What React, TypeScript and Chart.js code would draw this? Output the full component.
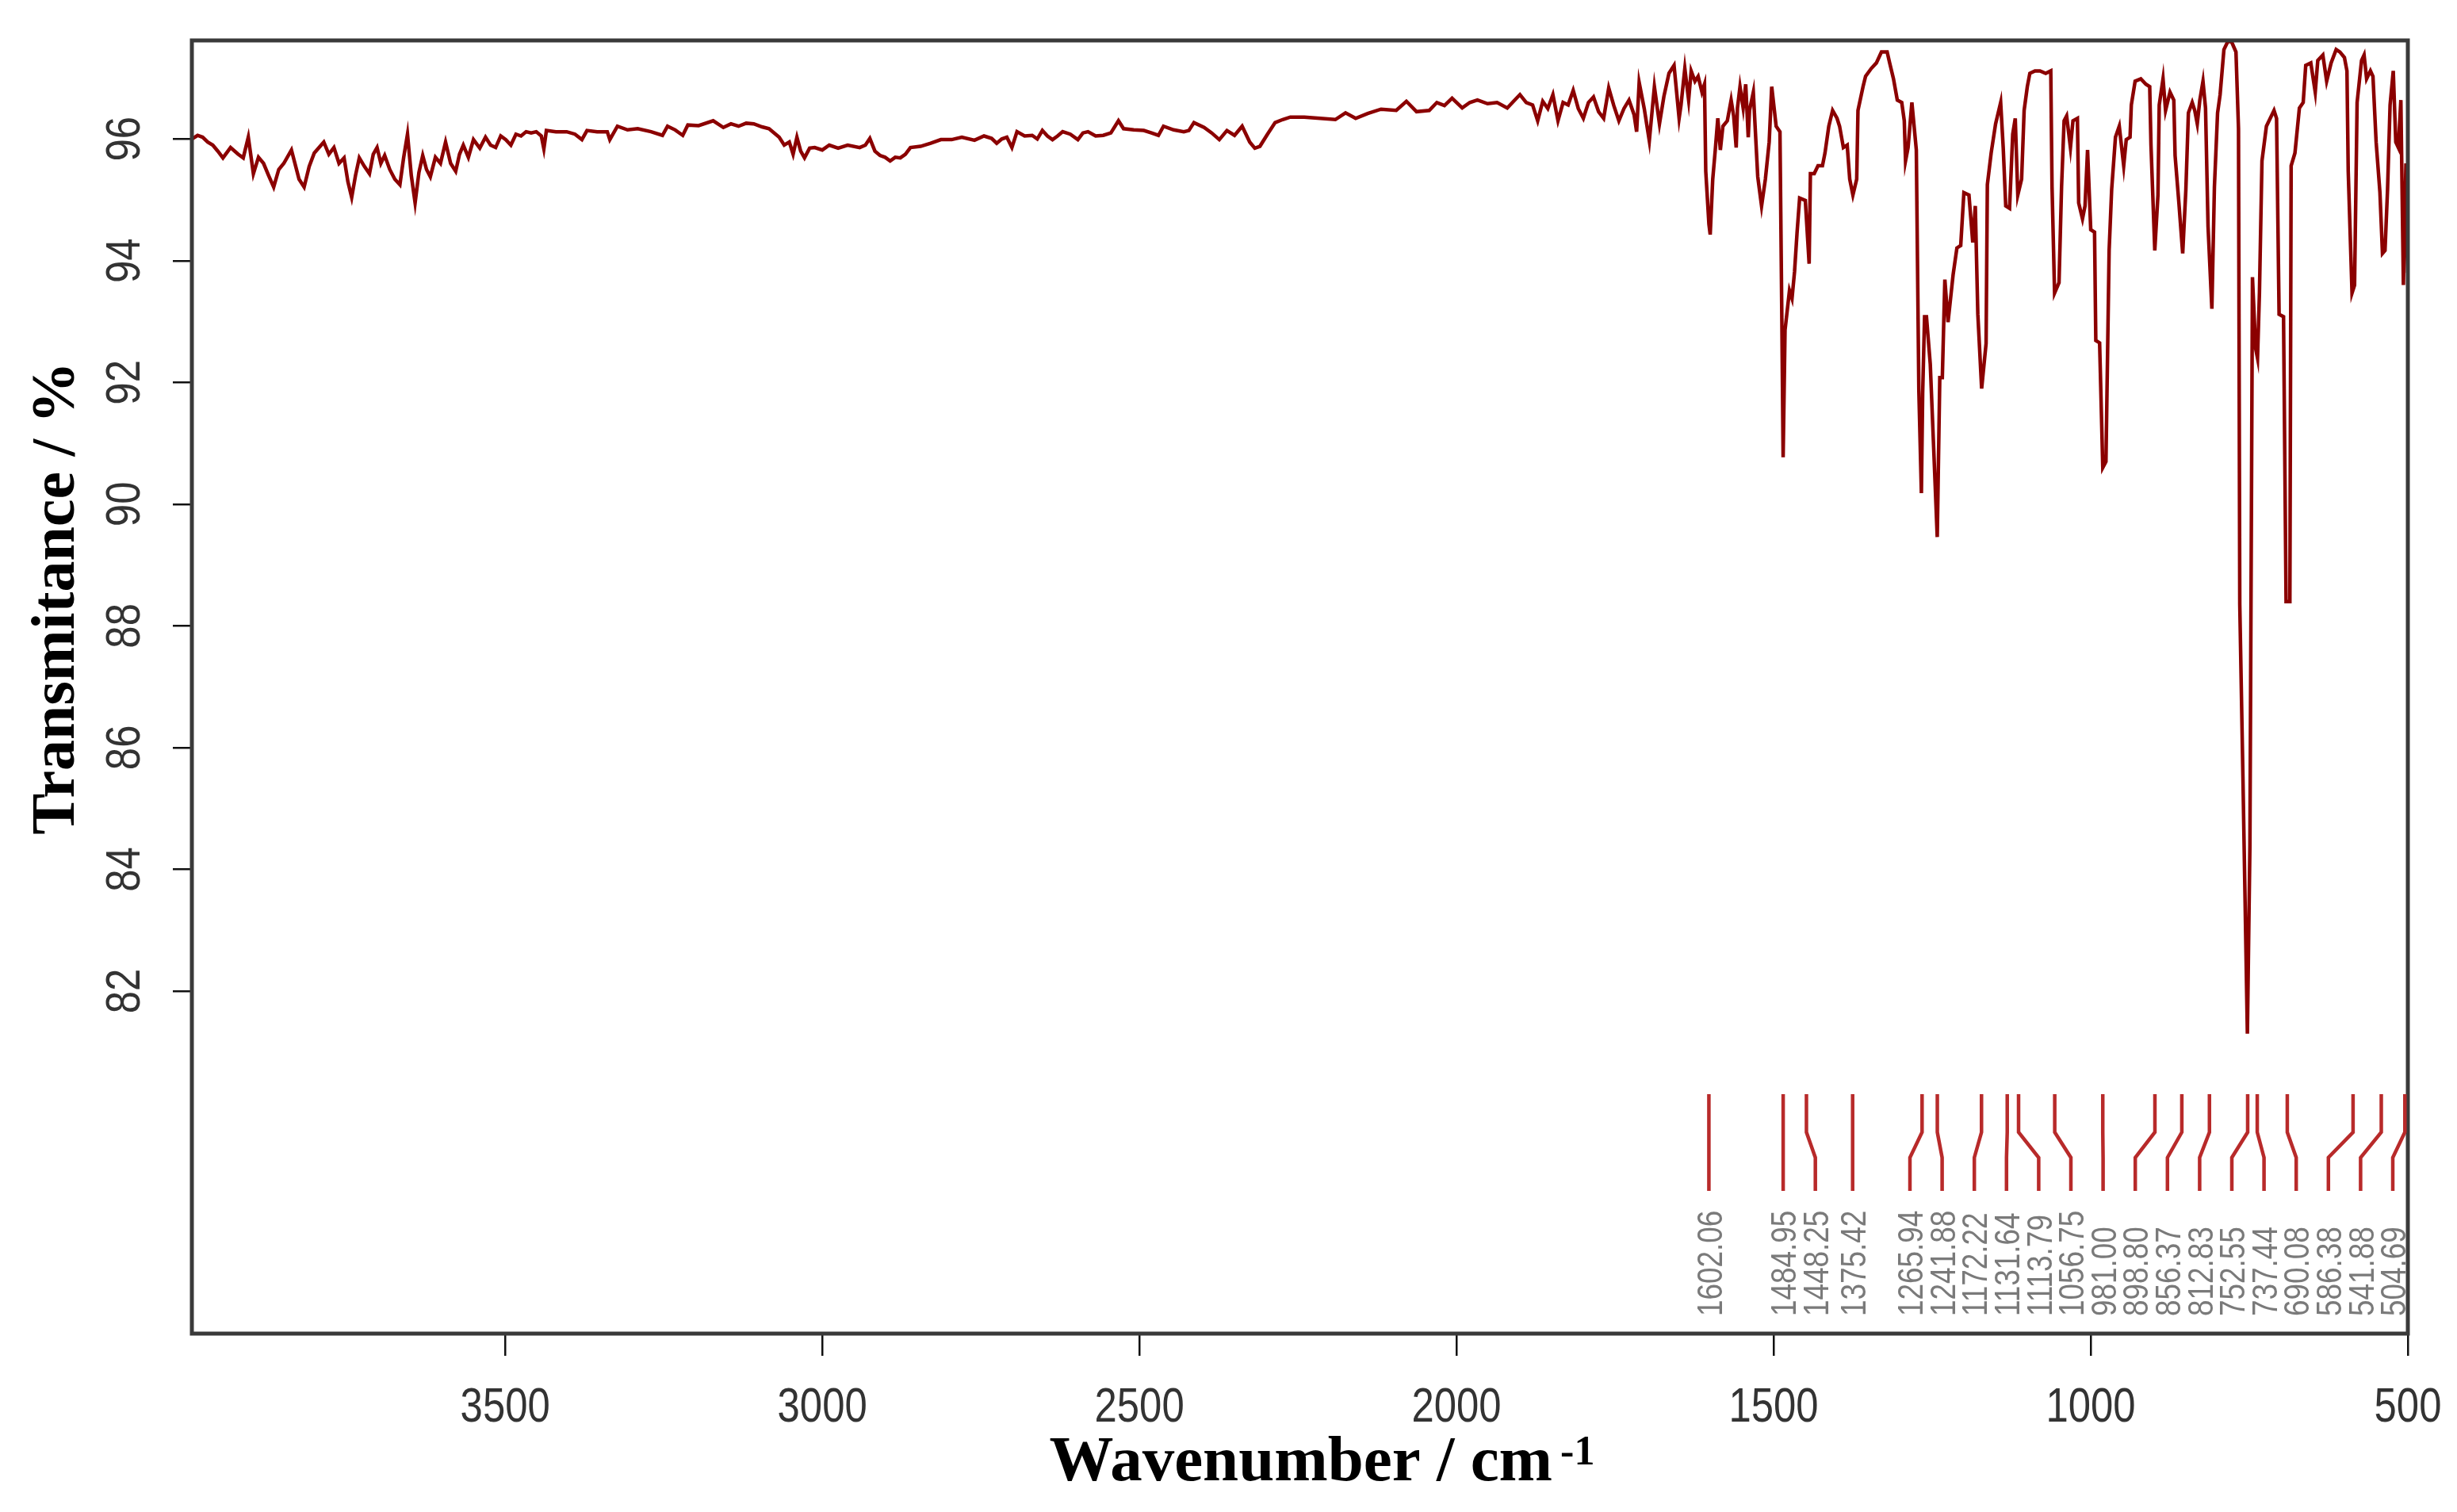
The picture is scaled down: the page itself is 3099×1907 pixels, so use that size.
import React, { useEffect, useRef } from 'react';
import { Chart, registerables } from 'chart.js';

Chart.register(...registerables);

// ---- data ----
const wavenumbers = [
  3994, 3985, 3977, 3969, 3961, 3953, 3945, 3933, 3921, 3913, 3905, 3897, 3889, 3881, 3873, 3865, 3857, 3849, 3837, 3825,
  3817, 3809, 3801, 3786, 3778, 3770, 3762, 3754, 3748, 3742, 3736, 3730, 3722, 3714, 3708, 3702, 3696, 3690, 3682, 3674,
  3666, 3660, 3654, 3648, 3642, 3636, 3630, 3624, 3618, 3610, 3602, 3594, 3586, 3578, 3572, 3566, 3558, 3550, 3540, 3531,
  3523, 3515, 3507, 3499, 3491, 3483, 3475, 3467, 3459, 3451, 3443, 3439, 3435, 3420, 3403, 3390, 3379, 3371, 3355, 3339,
  3335, 3323, 3307, 3291, 3270, 3252, 3244, 3232, 3220, 3212, 3195, 3172, 3156, 3144, 3132, 3120, 3108, 3095, 3084, 3068,
  3060, 3052, 3046, 3040, 3034, 3028, 3020, 3012, 3000, 2989, 2975, 2960, 2941, 2932, 2925, 2917, 2909, 2901, 2893, 2885,
  2877, 2869, 2861, 2845, 2829, 2813, 2796, 2780, 2760, 2745, 2733, 2725, 2717, 2709, 2701, 2693, 2681, 2669, 2661, 2653,
  2645, 2637, 2629, 2621, 2609, 2597, 2589, 2581, 2569, 2557, 2545, 2533, 2525, 2509, 2493, 2481, 2470, 2462, 2446, 2430,
  2422, 2414, 2398, 2386, 2374, 2362, 2350, 2338, 2326, 2318, 2310, 2298, 2286, 2274, 2262, 2240, 2215, 2191, 2175, 2159,
  2140, 2119, 2095, 2079, 2063, 2043, 2031, 2019, 2007, 1991, 1979, 1967, 1951, 1936, 1920, 1910, 1900, 1890, 1880, 1872,
  1864, 1856, 1848, 1840, 1832, 1824, 1816, 1808, 1800, 1792, 1784, 1776, 1768, 1760, 1752, 1744, 1736, 1728, 1720, 1716,
  1712, 1704, 1696, 1688, 1680, 1673, 1665, 1657, 1649, 1646, 1640, 1634, 1630, 1624, 1619, 1613, 1609, 1607, 1602, 1600,
  1596, 1592, 1588, 1584, 1580, 1573, 1567, 1563, 1559, 1557, 1553, 1548, 1544, 1540, 1538, 1532, 1525, 1519, 1513, 1507,
  1503, 1496, 1490, 1487, 1485, 1482, 1475, 1471, 1467, 1463, 1459, 1450, 1446, 1444, 1442, 1436, 1430, 1423, 1419, 1413,
  1407, 1400, 1396, 1390, 1384, 1380, 1375, 1369, 1367, 1359, 1355, 1346, 1338, 1330, 1321, 1317, 1311, 1305, 1298, 1294,
  1292, 1288, 1282, 1275, 1271, 1267, 1265, 1262, 1259, 1253, 1246, 1242, 1238, 1234, 1230, 1225, 1217, 1211, 1205, 1200,
  1192, 1186, 1182, 1178, 1172, 1165, 1163, 1157, 1150, 1142, 1138, 1134, 1128, 1123, 1119, 1115, 1109, 1105, 1100, 1096,
  1088, 1080, 1071, 1063, 1061, 1057, 1050, 1046, 1042, 1038, 1032, 1028, 1021, 1019, 1013, 1009, 1005, 1000, 994, 992,
  986, 981, 976, 971, 967, 961, 955, 948, 944, 938, 936, 930, 921, 913, 907, 905, 899, 894, 892, 886,
  882, 875, 869, 867, 861, 855, 850, 846, 840, 836, 832, 828, 823, 819, 815, 809, 805, 800, 796, 790,
  784, 778, 771, 767, 765, 760, 753, 749, 745, 740, 737, 734, 730, 723, 717, 711, 707, 703, 696, 692,
  686, 684, 678, 671, 665, 661, 653, 646, 642, 634, 628, 621, 613, 607, 600, 596, 594, 588, 584, 580,
  573, 569, 565, 559, 555, 550, 544, 540, 536, 532, 528, 523, 519, 515, 511, 507, 503, 500,
];

const transmittance = [
  96.00, 96.06, 96.03, 95.95, 95.90, 95.80, 95.69, 95.86, 95.75, 95.69, 96.03, 95.43, 95.70, 95.60, 95.40, 95.21, 95.50, 95.60, 95.82, 95.34,
  95.21, 95.55, 95.77, 95.95, 95.75, 95.86, 95.60, 95.69, 95.30, 95.04, 95.40, 95.69, 95.55, 95.43, 95.75, 95.86, 95.60, 95.73, 95.50, 95.34,
  95.25, 95.70, 96.08, 95.40, 94.95, 95.45, 95.73, 95.50, 95.38, 95.70, 95.60, 95.95, 95.60, 95.47, 95.75, 95.90, 95.70, 95.99, 95.85, 96.03,
  95.90, 95.86, 96.05, 95.99, 95.90, 96.08, 96.05, 96.12, 96.10, 96.12, 96.05, 95.84, 96.14, 96.12, 96.12, 96.08, 95.99, 96.14, 96.12, 96.12,
  95.99, 96.21, 96.15, 96.17, 96.12, 96.06, 96.21, 96.15, 96.06, 96.23, 96.22, 96.30, 96.19, 96.25, 96.21, 96.26, 96.25, 96.20, 96.17, 96.03,
  95.90, 95.95, 95.75, 96.03, 95.80, 95.69, 95.85, 95.86, 95.82, 95.90, 95.85, 95.90, 95.86, 95.90, 96.01, 95.80, 95.73, 95.70, 95.64, 95.70,
  95.69, 95.75, 95.86, 95.88, 95.93, 95.99, 95.99, 96.03, 95.98, 96.05, 96.01, 95.93, 96.00, 96.03, 95.86, 96.12, 96.05, 96.06, 96.00, 96.14,
  96.05, 95.99, 96.05, 96.12, 96.08, 95.99, 96.10, 96.12, 96.05, 96.06, 96.10, 96.30, 96.17, 96.15, 96.14, 96.10, 96.06, 96.21, 96.15, 96.12,
  96.14, 96.27, 96.19, 96.10, 95.99, 96.14, 96.06, 96.21, 95.95, 95.85, 95.88, 96.08, 96.27, 96.32, 96.36, 96.36, 96.34, 96.32, 96.43, 96.34,
  96.42, 96.49, 96.47, 96.62, 96.45, 96.47, 96.60, 96.55, 96.67, 96.51, 96.60, 96.64, 96.58, 96.60, 96.51, 96.62, 96.73, 96.60, 96.56, 96.30,
  96.62, 96.50, 96.73, 96.30, 96.60, 96.56, 96.80, 96.50, 96.34, 96.60, 96.69, 96.45, 96.34, 96.84, 96.55, 96.30, 96.50, 96.64, 96.40, 96.12,
  96.93, 96.50, 95.97, 96.86, 96.25, 96.70, 97.08, 97.21, 96.34, 96.56, 97.16, 96.64, 97.12, 96.95, 97.03, 96.77, 96.90, 95.47, 94.60, 94.43,
  95.34, 95.82, 96.34, 95.82, 96.21, 96.30, 96.64, 96.38, 95.86, 96.51, 96.86, 96.51, 96.90, 96.03, 96.47, 96.77, 95.38, 94.90, 95.34, 95.95,
  96.86, 96.21, 96.12, 93.00, 90.77, 92.86, 93.51, 93.38, 93.82, 94.47, 95.03, 94.99, 94.30, 93.95, 95.43, 95.43, 95.56, 95.56, 95.77, 96.21,
  96.47, 96.34, 96.21, 95.86, 95.90, 95.34, 95.08, 95.34, 96.47, 96.86, 97.03, 97.16, 97.25, 97.43, 97.43, 97.25, 96.99, 96.64, 96.60, 96.30,
  95.64, 95.86, 96.60, 95.82, 91.86, 90.18, 91.82, 93.08, 93.08, 92.30, 90.50, 89.46, 92.08, 92.08, 93.69, 92.99, 93.77, 94.21, 94.25, 95.12,
  95.08, 94.30, 94.90, 93.12, 91.90, 92.64, 95.25, 95.77, 96.25, 96.60, 95.86, 94.90, 94.86, 96.08, 96.34, 95.08, 95.34, 96.47, 96.86, 97.08,
  97.12, 97.12, 97.08, 97.12, 95.21, 93.47, 93.64, 95.21, 96.30, 96.38, 95.86, 96.30, 96.34, 94.95, 94.69, 94.90, 95.82, 94.51, 94.47, 92.69,
  92.65, 90.60, 90.70, 94.17, 95.17, 96.03, 96.21, 95.56, 95.99, 96.03, 96.56, 96.95, 96.99, 96.90, 96.86, 95.90, 94.17, 95.08, 96.56, 96.99,
  96.47, 96.77, 96.64, 95.73, 94.95, 94.12, 95.17, 96.43, 96.60, 96.47, 96.25, 96.64, 96.95, 96.51, 94.56, 93.21, 95.21, 96.43, 96.73, 97.47,
  97.60, 97.60, 97.43, 96.17, 88.35, 85.50, 81.30, 84.40, 93.73, 92.56, 92.40, 93.47, 95.64, 96.21, 96.34, 96.47, 96.34, 93.12, 93.08, 88.40,
  88.40, 95.56, 95.77, 96.51, 96.60, 97.21, 97.25, 96.77, 97.29, 97.38, 96.95, 97.25, 97.47, 97.43, 97.34, 97.12, 95.47, 93.47, 93.60, 96.60,
  97.29, 97.38, 96.99, 97.12, 97.03, 95.95, 95.12, 94.12, 94.17, 95.17, 96.56, 97.12, 95.95, 95.86, 96.64, 93.60, 95.60, 93.80,
];

const peakWavenumbers = [
  1602.06, 1484.95, 1448.25, 1375.42, 1265.94, 1241.88, 1172.22, 1131.64, 1113.79, 1056.75,
  981.0, 898.8, 856.37, 812.83, 752.55, 737.44, 690.08, 586.38, 541.88, 504.69,
];

const xTickValues = [3500, 3000, 2500, 2000, 1500, 1000, 500];
const yTickValues = [82, 84, 86, 88, 90, 92, 94, 96];

const xTitle = 'Wavenumber / cm';
const xTitleSup = '-1';
const yTitle = 'Transmitance / %';

const X_MIN = 500;
const X_MAX = 3994;
const Y_MIN = 76.37;
const Y_MAX = 97.62;

const SANS = '"Liberation Sans", Arial, sans-serif';
const SERIF = '"Liberation Serif", "Times New Roman", serif';
const NARROW = 0.82;

const decorPlugin = {
  id: 'decor',
  afterDraw(chart: any) {
    const ctx: CanvasRenderingContext2D = chart.ctx;
    const { left, right, top, bottom } = chart.chartArea;
    const xs = chart.scales.x;
    const ys = chart.scales.y;
    ctx.save();

    // frame
    ctx.strokeStyle = '#3a3a3a';
    ctx.lineWidth = 5;
    ctx.strokeRect(left, top, right - left, bottom - top);

    // x tick labels
    const tickSize = 62;
    ctx.fillStyle = '#333333';
    ctx.font = `${tickSize}px ${SANS}`;
    ctx.textAlign = 'center';
    ctx.textBaseline = 'alphabetic';
    for (const v of xTickValues) {
      const px = xs.getPixelForValue(v);
      ctx.save();
      ctx.translate(px, bottom + 111);
      ctx.scale(NARROW, 1);
      ctx.fillText(String(v), 0, 0);
      ctx.restore();
    }
    // y tick labels (rotated)
    for (const v of yTickValues) {
      const py = ys.getPixelForValue(v);
      ctx.save();
      ctx.translate(left - 88, py);
      ctx.rotate(-Math.PI / 2);
      ctx.scale(NARROW, 1);
      ctx.fillText(String(v), 0, (tickSize * 0.716) / 2);
      ctx.restore();
    }

    // axis titles
    ctx.fillStyle = '#000000';
    ctx.font = `bold 81px ${SERIF}`;
    ctx.textAlign = 'left';
    const mainW = ctx.measureText(xTitle).width;
    ctx.font = `bold 52px ${SERIF}`;
    const supW = ctx.measureText(xTitleSup).width;
    const gapSup = 10;
    const totalW = mainW + gapSup + supW;
    const cx = (left + right) / 2 + 28;
    const startX = cx - totalW / 2;
    ctx.font = `bold 81px ${SERIF}`;
    ctx.fillText(xTitle, startX, bottom + 185);
    ctx.font = `bold 52px ${SERIF}`;
    ctx.fillText(xTitleSup, startX + mainW + gapSup, bottom + 165);

    ctx.save();
    ctx.font = `bold 78px ${SERIF}`;
    ctx.textAlign = 'center';
    ctx.translate(left - 149, (top + bottom) / 2 - 112);
    ctx.rotate(-Math.PI / 2);
    ctx.fillText(yTitle, 0, 0);
    ctx.restore();

    // peak markers with de-cluttered labels
    const items = peakWavenumbers
      .map((w) => ({ w, x: xs.getPixelForValue(w) }))
      .sort((a, b) => a.x - b.x);
    const gap = 40.6;
    const maxX = right - 19;
    const pos = items.map((it) => it.x);
    for (let i = 1; i < pos.length; i++) pos[i] = Math.max(pos[i], pos[i - 1] + gap);
    pos[pos.length - 1] = Math.min(pos[pos.length - 1], maxX);
    for (let i = pos.length - 2; i >= 0; i--) pos[i] = Math.min(pos[i], pos[i + 1] - gap);

    const yTop = bottom - 302;
    const yK1 = bottom - 254;
    const yK2 = bottom - 222;
    const yEnd = bottom - 180;
    ctx.strokeStyle = '#b82a2a';
    ctx.lineWidth = 4.5;
    ctx.lineJoin = 'miter';
    items.forEach((it, i) => {
      ctx.beginPath();
      ctx.moveTo(it.x, yTop);
      ctx.lineTo(it.x, yK1);
      ctx.lineTo(pos[i], yK2);
      ctx.lineTo(pos[i], yEnd);
      ctx.stroke();
    });

    const lblSize = 45;
    ctx.fillStyle = '#7a7a7a';
    ctx.font = `${lblSize}px ${SANS}`;
    ctx.textAlign = 'left';
    ctx.textBaseline = 'alphabetic';
    items.forEach((it, i) => {
      ctx.save();
      ctx.translate(pos[i], bottom - 22);
      ctx.rotate(-Math.PI / 2);
      ctx.scale(NARROW, 1);
      ctx.fillText(it.w.toFixed(2), 0, (lblSize * 0.716) / 2);
      ctx.restore();
    });

    ctx.restore();
  },
};

export default function App() {
  const canvasRef = useRef<HTMLCanvasElement | null>(null);

  useEffect(() => {
    const canvas = canvasRef.current;
    if (!canvas) return;
    const points = wavenumbers.map((w, i) => ({ x: w, y: transmittance[i] }));
    const chart = new Chart(canvas, {
      type: 'line',
      data: {
        datasets: [
          {
            data: points,
            borderColor: '#8b0000',
            borderWidth: 4.5,
            pointRadius: 0,
            tension: 0,
            fill: false,
          },
        ],
      },
      options: {
        animation: false,
        responsive: false,
        maintainAspectRatio: false,
        devicePixelRatio: 1,
        layout: { padding: { left: 0, top: 51, right: 62, bottom: 0 } },
        plugins: { legend: { display: false }, tooltip: { enabled: false } },
        scales: {
          x: {
            type: 'linear',
            reverse: true,
            min: X_MIN,
            max: X_MAX,
            afterBuildTicks: (s: any) => {
              s.ticks = xTickValues.map((v) => ({ value: v }));
            },
            afterFit: (s: any) => {
              s.height = 225;
            },
            ticks: { display: false },
            grid: { drawOnChartArea: false, drawTicks: true, tickLength: 28, color: '#111111', lineWidth: 2.5 },
            border: { display: false },
          },
          y: {
            type: 'linear',
            min: Y_MIN,
            max: Y_MAX,
            afterBuildTicks: (s: any) => {
              s.ticks = yTickValues.map((v) => ({ value: v }));
            },
            afterFit: (s: any) => {
              s.width = 242;
            },
            ticks: { display: false },
            grid: { drawOnChartArea: false, drawTicks: true, tickLength: 24, color: '#111111', lineWidth: 2.5 },
            border: { display: false },
          },
        },
      },
      plugins: [decorPlugin],
    } as any);
    return () => chart.destroy();
  }, []);

  return (
    <div style={{ position: 'absolute', left: 0, top: 0, width: 3099, height: 1907, background: '#ffffff' }}>
      <canvas ref={canvasRef} width={3099} height={1907} style={{ display: 'block' }} />
    </div>
  );
}
